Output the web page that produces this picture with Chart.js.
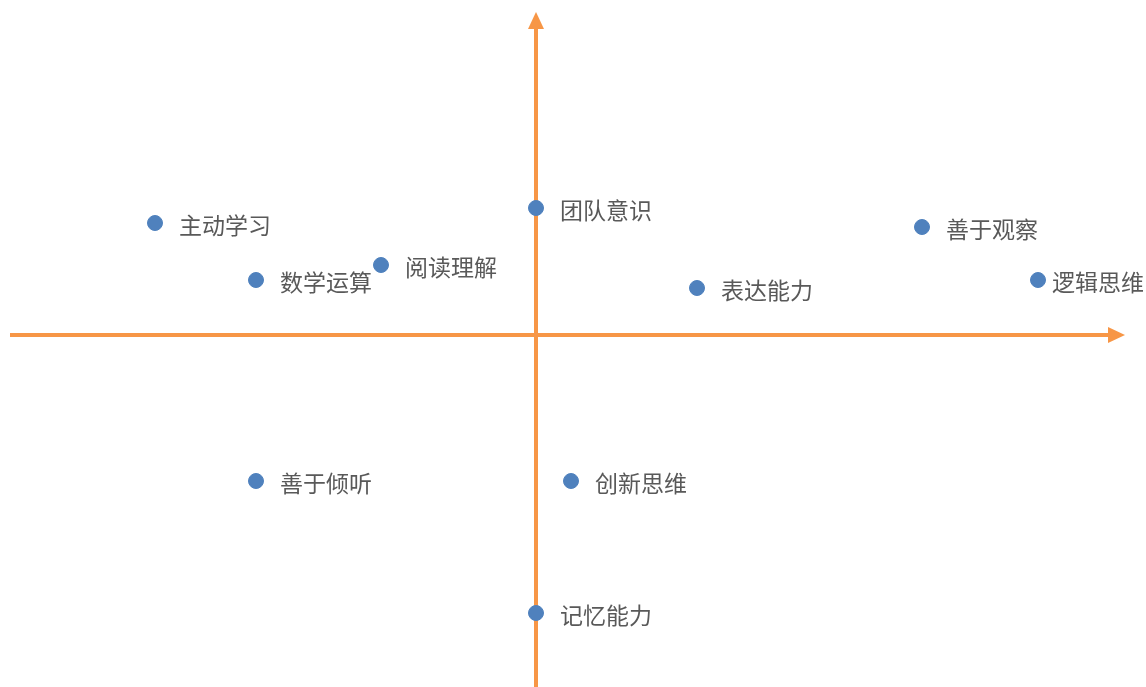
<!DOCTYPE html>
<html>
<head>
<meta charset="utf-8">
<script src="https://cdn.jsdelivr.net/npm/chart.js@4.4.0/dist/chart.umd.min.js"></script>
<style>
  html, body { margin: 0; padding: 0; background: #fff; }
  #wrap { width: 1146px; height: 687px; }
</style>
</head>
<body>
<div id="wrap"><canvas id="quadChart"></canvas></div>
<script>
const names = ["主动学习", "数学运算", "阅读理解", "团队意识", "表达能力", "善于观察", "逻辑思维", "善于倾听", "创新思维", "记忆能力"];
const xValues = [-3.81, -2.80, -1.55, 0.00, 1.61, 3.86, 5.02, -2.80, 0.35, 0.00];
const yValues = [1.12, 0.55, 0.70, 1.27, 0.47, 1.08, 0.55, -1.46, -1.46, -2.78];

const points = names.map((n, i) => ({ x: xValues[i], y: yValues[i] }));

// orange axes with arrow heads, crossing at (0,0)
const quadAxes = {
    id: 'quadAxes',
    beforeDatasetsDraw(chart) {
        const ctx = chart.ctx;
        const x0 = chart.scales.x.getPixelForValue(0);
        const y0 = chart.scales.y.getPixelForValue(0);
        const color = '#F79646';
        ctx.save();
        ctx.strokeStyle = color;
        ctx.fillStyle = color;
        ctx.lineWidth = 4;

        // horizontal
        ctx.beginPath();
        ctx.moveTo(10, y0);
        ctx.lineTo(1110, y0);
        ctx.stroke();
        ctx.beginPath();
        ctx.moveTo(1125, y0);
        ctx.lineTo(1108, y0 - 8);
        ctx.lineTo(1108, y0 + 8);
        ctx.closePath();
        ctx.fill();

        // vertical
        ctx.beginPath();
        ctx.moveTo(x0, 687);
        ctx.lineTo(x0, 27);
        ctx.stroke();
        ctx.beginPath();
        ctx.moveTo(x0, 12);
        ctx.lineTo(x0 - 8, 29);
        ctx.lineTo(x0 + 8, 29);
        ctx.closePath();
        ctx.fill();
        ctx.restore();
    }
};

// text next to each point, pushed back inside if it would run off the right edge
const pointNames = {
    id: 'pointNames',
    afterDatasetsDraw(chart) {
        const ctx = chart.ctx;
        const meta = chart.getDatasetMeta(0);
        ctx.save();
        ctx.font = '23px "Noto Sans CJK SC", sans-serif';
        ctx.fillStyle = '#595959';
        ctx.textBaseline = 'middle';
        ctx.textAlign = 'left';
        meta.data.forEach((pt, i) => {
            const w = ctx.measureText(names[i]).width;
            const tx = Math.min(pt.x + 24, chart.width - w - 2);
            ctx.fillText(names[i], tx, pt.y + 2);
        });
        ctx.restore();
    }
};

new Chart(document.getElementById('quadChart').getContext('2d'), {
    type: 'scatter',
    data: {
        datasets: [{
            data: points,
            backgroundColor: '#4F81BD',
            borderColor: '#4F81BD',
            pointRadius: 7.5,
            pointHoverRadius: 7.5
        }]
    },
    options: {
        responsive: true,
        maintainAspectRatio: false,
        animation: false,
        layout: { padding: 0, autoPadding: false },
        plugins: {
            legend: { display: false },
            tooltip: { enabled: false }
        },
        scales: {
            x: { display: false, min: -5.36, max: 6.10 },
            y: { display: false, min: -3.52, max: 3.35 }
        }
    },
    plugins: [quadAxes, pointNames]
});
</script>
</body>
</html>
